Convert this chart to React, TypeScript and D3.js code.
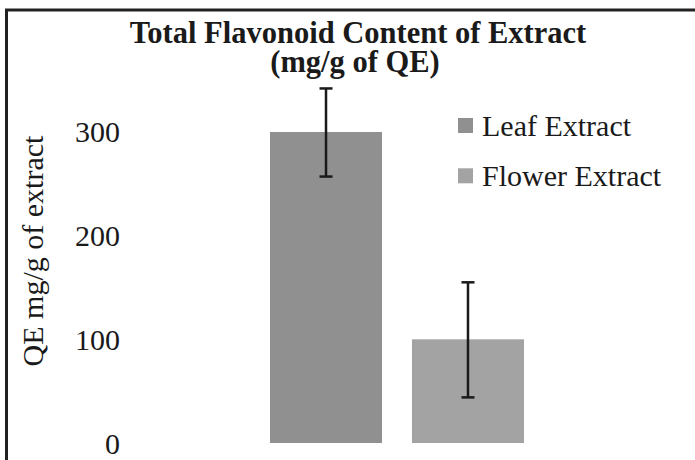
import React from "react";
import * as d3 from "d3";

const categories = ["Leaf Extract", "Flower Extract"];
const values = [300, 100];
const errUp = [42, 55];
const errDown = [43, 56];
const yTicks = [0, 100, 200, 300];
const colors = ["#909090", "#a3a3a3"];

const WIDTH = 695;
const HEIGHT = 460;
const FONT = "'Liberation Serif', 'Times New Roman', serif";

const App = () => {
  const y = d3.scaleLinear().domain([0, 350]).range([443, 443 - 350 * 1.0367]);
  const x = d3
    .scaleBand()
    .domain(categories)
    .range([270, 524])
    .paddingInner(0.211)
    .paddingOuter(0);
  const bw = x.bandwidth();

  return (
    <svg
      width={WIDTH}
      height={HEIGHT}
      style={{ position: "absolute", left: 0, top: 0, background: "#fff" }}
      fontFamily={FONT}
    >
      {/* frame, cropped at right and bottom */}
      <rect x={6.5} y={10} width={720} height={480} fill="none" stroke="#222" strokeWidth={3} />

      <text x={358} y={42.7} textAnchor="middle" fontWeight="bold" fontSize={30.5} fill="#1a1a1a">
        Total Flavonoid Content of Extract
      </text>
      <text x={355} y={72} textAnchor="middle" fontWeight="bold" fontSize={30.5} fill="#1a1a1a">
        (mg/g of QE)
      </text>

      <text
        transform={`translate(43, 251) rotate(-90)`}
        textAnchor="middle"
        fontSize={30}
        fill="#1a1a1a"
      >
        QE mg/g of extract
      </text>

      {yTicks.map((t) => (
        <text key={t} x={120} y={y(t)} dy="0.35em" textAnchor="end" fontSize={30} fill="#1a1a1a">
          {t}
        </text>
      ))}

      {categories.map((c, i) => {
        const cx = x(c)! + bw / 2;
        return (
          <g key={c}>
            <rect x={x(c)} y={y(values[i])} width={bw} height={y(0) - y(values[i])} fill={colors[i]} />
            <line
              x1={cx}
              x2={cx}
              y1={y(values[i] + errUp[i])}
              y2={y(values[i] - errDown[i])}
              stroke="#1a1a1a"
              strokeWidth={2.5}
            />
            {[values[i] + errUp[i], values[i] - errDown[i]].map((v, j) => (
              <line key={j} x1={cx - 6.5} x2={cx + 6.5} y1={y(v)} y2={y(v)} stroke="#1a1a1a" strokeWidth={2.5} />
            ))}
          </g>
        );
      })}

      {categories.map((c, i) => (
        <g key={c} transform={`translate(458, ${118 + i * 50.3})`}>
          <rect width={15} height={15} fill={colors[i]} />
          <text x={24} y={18} fontSize={30} fill="#1a1a1a">
            {c}
          </text>
        </g>
      ))}
    </svg>
  );
};

export default App;
